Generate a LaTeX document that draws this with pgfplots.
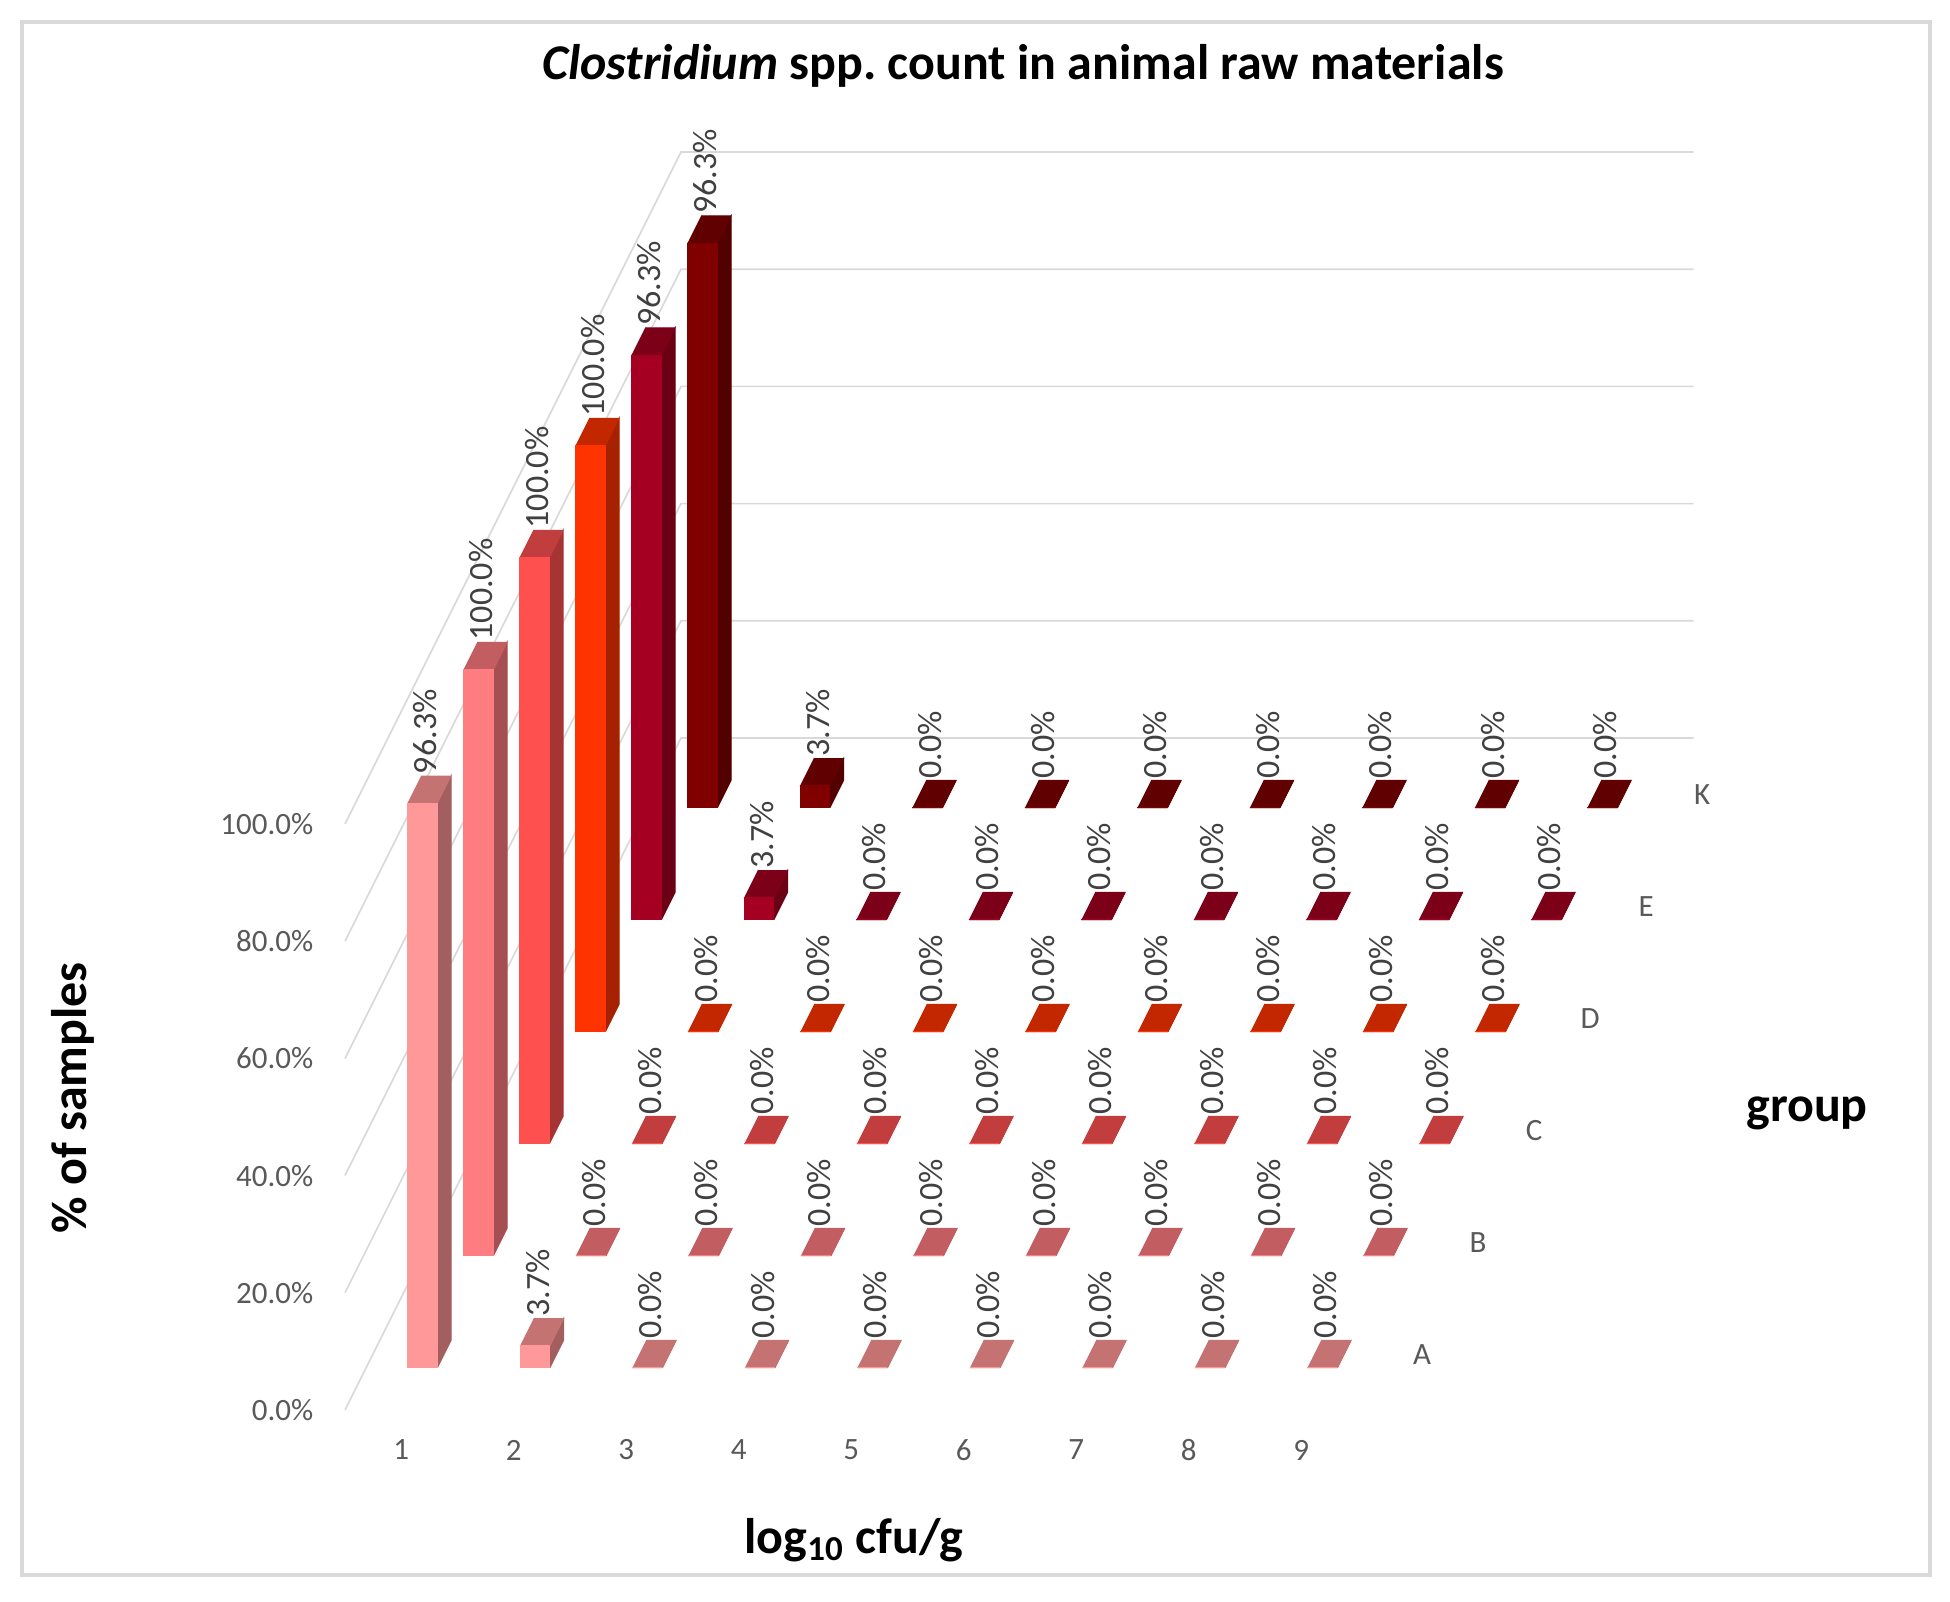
\documentclass[border=0pt]{standalone}
\usepackage{pgfplots}
\pgfplotsset{compat=1.18}
\usepackage{fontspec}
\setmainfont{Carlito}
\definecolor{Afront}{HTML}{FF9999}\definecolor{Aside}{HTML}{A35F5F}\definecolor{Atop}{HTML}{C47272}
\definecolor{Bfront}{HTML}{FF7C80}\definecolor{Bside}{HTML}{A64F52}\definecolor{Btop}{HTML}{C25E61}
\definecolor{Cfront}{HTML}{FF5050}\definecolor{Cside}{HTML}{A63434}\definecolor{Ctop}{HTML}{C23D3D}
\definecolor{Dfront}{HTML}{FF3300}\definecolor{Dside}{HTML}{A62100}\definecolor{Dtop}{HTML}{C22700}
\definecolor{Efront}{HTML}{A50021}\definecolor{Eside}{HTML}{6B0015}\definecolor{Etop}{HTML}{7D0019}
\definecolor{Kfront}{HTML}{800000}\definecolor{Kside}{HTML}{530000}\definecolor{Ktop}{HTML}{610000}
\definecolor{tickgray}{HTML}{595959}
\definecolor{labgray}{HTML}{404040}
\definecolor{gridgray}{HTML}{D9D9D9}
\tikzset{
  dlab/.style={font=\fontsize{10.2}{12}\selectfont, text=labgray, inner sep=0pt,
    xshift=-1.2pt, yshift=4.5pt, rotate=90, anchor=west},
  ticklab/.style={font=\fontsize{9.3}{11}\selectfont, text=tickgray, inner sep=0pt},
}
% one 3-D column: #1 category centre, #2 depth centre, #3 value (%), #4 colour prefix
\newcommand\pbar[4]{%
  \pgfmathsetmacro\bxa{#1-0.133}%
  \pgfmathsetmacro\bxb{#1+0.133}%
  \pgfmathsetmacro\bya{#2-0.122}%
  \pgfmathsetmacro\byb{#2+0.122}%
  \edef\pbartmp{%
    \noexpand\addplot3[fill=#4side,draw=#4side,line width=0.3pt,mark=none]
      coordinates {(\bxb,\bya,0) (\bxb,\byb,0) (\bxb,\byb,#3) (\bxb,\bya,#3)};
    \noexpand\addplot3[fill=#4top,draw=#4top,line width=0.3pt,mark=none]
      coordinates {(\bxa,\bya,#3) (\bxb,\bya,#3) (\bxb,\byb,#3) (\bxa,\byb,#3)};
    \noexpand\addplot3[fill=#4front,draw=#4front,line width=0.3pt,mark=none]
      coordinates {(\bxa,\bya,0) (\bxb,\bya,0) (\bxb,\bya,#3) (\bxa,\bya,#3)};
  }\pbartmp
  \node[dlab] at (axis cs:#1,#2,#3)
    {\pgfmathprintnumber[fixed,fixed zerofill,precision=1,assume math mode=true]{#3}\%};
}
% a row of columns: #1 depth centre, #2 colour prefix, #3 the nine values
\newcommand\barrow[3]{%
  \foreach \v [count=\i] in {#3} {%
    \pgfmathsetmacro\cc{\i-0.5}%
    \edef\next{\noexpand\pbar{\cc}{#1}{\v}{#2}}\next
  }%
}
\begin{document}
\begin{tikzpicture}
\useasboundingbox (-103.5pt,-57.6pt) rectangle (481.5pt,423pt);
\draw[gridgray, line width=1.2pt] (-96.9pt,-49.5pt) rectangle (475.5pt,416.4pt);
\begin{axis}[
  anchor=origin, at={(0pt,0pt)},
  x={(33.75pt,0pt)}, y={(16.8pt,33.6pt)}, z={(0pt,1.758pt)},
  xmin=0, xmax=9, ymin=0, ymax=6, zmin=0, zmax=100,
  hide axis, clip=false,
]
% walls' gridlines
\pgfplotsinvokeforeach{0,20,40,60,80,100}{
  \draw[gridgray, line width=0.5pt] (axis cs:0,0,#1) -- (axis cs:0,6,#1) -- (axis cs:9,6,#1);
  \node[ticklab, anchor=east, xshift=-9.3pt] at (axis cs:0,0,#1)
    {\pgfmathprintnumber[fixed,fixed zerofill,precision=1,assume math mode=true]{#1}\%};
}
% columns, from the back row to the front row
\barrow{5.5}{K}{96.3,3.7,0,0,0,0,0,0,0}
\barrow{4.5}{E}{96.3,3.7,0,0,0,0,0,0,0}
\barrow{3.5}{D}{100,0,0,0,0,0,0,0,0}
\barrow{2.5}{C}{100,0,0,0,0,0,0,0,0}
\barrow{1.5}{B}{100,0,0,0,0,0,0,0,0}
\barrow{0.5}{A}{96.3,3.7,0,0,0,0,0,0,0}
% category labels
\node[ticklab, yshift=-12pt] at (axis cs:0.5,0,0) {1};
\node[ticklab, yshift=-12pt] at (axis cs:1.5,0,0) {2};
\node[ticklab, yshift=-12pt] at (axis cs:2.5,0,0) {3};
\node[ticklab, yshift=-12pt] at (axis cs:3.5,0,0) {4};
\node[ticklab, yshift=-12pt] at (axis cs:4.5,0,0) {5};
\node[ticklab, yshift=-12pt] at (axis cs:5.5,0,0) {6};
\node[ticklab, yshift=-12pt] at (axis cs:6.5,0,0) {7};
\node[ticklab, yshift=-12pt] at (axis cs:7.5,0,0) {8};
\node[ticklab, yshift=-12pt] at (axis cs:8.5,0,0) {9};
% group labels
\node[ticklab, xshift=11pt, yshift=-0.3pt] at (axis cs:9,0.5,0) {A};
\node[ticklab, xshift=11pt, yshift=-0.3pt] at (axis cs:9,1.5,0) {B};
\node[ticklab, xshift=11pt, yshift=-0.3pt] at (axis cs:9,2.5,0) {C};
\node[ticklab, xshift=11pt, yshift=-0.3pt] at (axis cs:9,3.5,0) {D};
\node[ticklab, xshift=11pt, yshift=-0.3pt] at (axis cs:9,4.5,0) {E};
\node[ticklab, xshift=11pt, yshift=-0.3pt] at (axis cs:9,5.5,0) {K};
\end{axis}
\node[anchor=base, font=\fontsize{15}{18}\selectfont\bfseries] at (203.4pt,399pt)
  {\textit{Clostridium} spp.\ count in animal raw materials};
\node[anchor=base, rotate=90, font=\fontsize{15}{18}\selectfont\bfseries] at (-77.4pt,93.6pt) {\% of samples};
\node[anchor=base, font=\fontsize{15}{18}\selectfont\bfseries] at (152.7pt,-42.9pt) {log\textsubscript{10} cfu/g};
\node[anchor=base, font=\fontsize{15}{18}\selectfont\bfseries] at (438.6pt,86.4pt) {group};
\end{tikzpicture}
\end{document}
